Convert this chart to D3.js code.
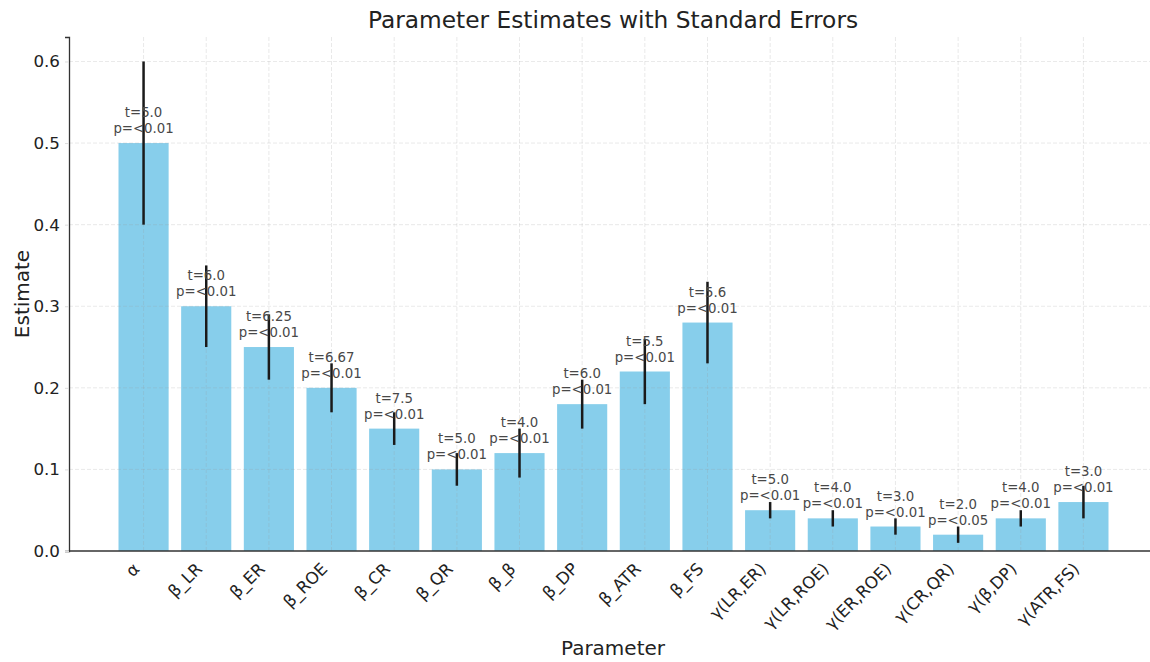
<!DOCTYPE html>
<html>
<head>
<meta charset="utf-8">
<script src="https://cdn.jsdelivr.net/npm/d3@7"></script>
<style>
  body { margin: 0; background: #fff; }
  text { font-family: "DejaVu Sans", sans-serif; }
</style>
</head>
<body>
<script>
// Parameter names, estimates and standard errors
const params = ["α","β_LR","β_ER","β_ROE","β_CR","β_QR","β_β","β_DP","β_ATR","β_FS",
    "γ(LR,ER)","γ(LR,ROE)","γ(ER,ROE)","γ(CR,QR)","γ(β,DP)","γ(ATR,FS)"];
const estimates = [0.5,0.3,0.25,0.2,0.15,0.1,0.12,0.18,0.22,0.28,0.05,0.04,0.03,0.02,0.04,0.06];
const stdErrors = [0.1,0.05,0.04,0.03,0.02,0.02,0.03,0.03,0.04,0.05,0.01,0.01,0.01,0.01,0.01,0.02];
const tStats = ["5.0","6.0","6.25","6.67","7.5","5.0","4.0","6.0","5.5","5.6","5.0","4.0","3.0","2.0","4.0","3.0"];
const pLabels = ["<0.01","<0.01","<0.01","<0.01","<0.01","<0.01","<0.01","<0.01","<0.01","<0.01",
    "<0.01","<0.01","<0.01","<0.05","<0.01","<0.01"];
const yTicks = [0.0,0.1,0.2,0.3,0.4,0.5,0.6];

const width = 1150, height = 662;

const svg = d3.select("body").append("svg")
    .attr("width", width)
    .attr("height", height);

// Scales (x uses index positions, like matplotlib's bar positions)
const x = d3.scaleLinear().domain([-1.19, params.length - 1 + 1.19]).range([69, 1158]);
const y = d3.scaleLinear().domain([0, 0.63]).range([551, 37]);
const barWidth = x(0.8) - x(0);

// Bars
svg.selectAll(".bar")
    .data(estimates)
    .enter().append("rect")
    .attr("class", "bar")
    .attr("x", (d, i) => x(i) - barWidth / 2)
    .attr("y", d => y(d))
    .attr("width", barWidth)
    .attr("height", d => y(0) - y(d))
    .attr("fill", "#87CEEB");

// Grid lines, drawn above the bars
const grid = svg.append("g").attr("class", "grid");
grid.selectAll(".hgrid")
    .data(yTicks.slice(1))
    .enter().append("line")
    .attr("x1", x.range()[0]).attr("x2", width)
    .attr("y1", d => y(d)).attr("y2", d => y(d))
    .attr("stroke", "#999")
    .attr("stroke-opacity", 0.22)
    .attr("stroke-dasharray", "4,2");
grid.selectAll(".vgrid")
    .data(params)
    .enter().append("line")
    .attr("x1", (d, i) => x(i)).attr("x2", (d, i) => x(i))
    .attr("y1", y(0.63)).attr("y2", y(0))
    .attr("stroke", "#999")
    .attr("stroke-opacity", 0.22)
    .attr("stroke-dasharray", "4,2");

// Error bars (no caps)
svg.selectAll(".err")
    .data(estimates)
    .enter().append("line")
    .attr("class", "err")
    .attr("x1", (d, i) => x(i)).attr("x2", (d, i) => x(i))
    .attr("y1", (d, i) => y(d - stdErrors[i]))
    .attr("y2", (d, i) => y(d + stdErrors[i]))
    .attr("stroke", "#1a1a1a")
    .attr("stroke-width", 2.5);

// t / p annotations above each bar
const notes = svg.selectAll(".note")
    .data(estimates)
    .enter().append("text")
    .attr("class", "note")
    .attr("text-anchor", "middle")
    .style("font-size", "13.3px")
    .attr("fill", "#484848");
notes.append("tspan")
    .attr("x", (d, i) => x(i))
    .attr("y", d => y(d) - 26)
    .text((d, i) => "t=" + tStats[i]);
notes.append("tspan")
    .attr("x", (d, i) => x(i))
    .attr("y", d => y(d) - 10)
    .text((d, i) => "p=" + pLabels[i]);

// Axes
const yAxis = svg.append("g")
    .attr("transform", "translate(" + x.range()[0] + ",0)")
    .call(d3.axisLeft(y).tickValues(yTicks).tickFormat(d3.format(".1f")).tickSize(4).tickPadding(5));
yAxis.select(".domain").attr("stroke", "#333").attr("stroke-width", 1.3);
yAxis.selectAll(".tick line").attr("stroke", "#ddd");
yAxis.selectAll(".tick text").style("font-size", "16.7px").attr("fill", "#222");

svg.append("line")
    .attr("x1", x.range()[0]).attr("x2", width)
    .attr("y1", y(0)).attr("y2", y(0))
    .attr("stroke", "#333")
    .attr("stroke-width", 1.3);

// Rotated x tick labels
svg.selectAll(".xlabel")
    .data(params)
    .enter().append("text")
    .attr("class", "xlabel")
    .attr("text-anchor", "end")
    .attr("transform", (d, i) => "translate(" + (x(i) - 3) + "," + (y(0) + 19) + ") rotate(-45)")
    .style("font-size", "16.7px")
    .attr("fill", "#222")
    .text(d => d);

// Axis titles
svg.append("text")
    .attr("x", 613).attr("y", 655)
    .attr("text-anchor", "middle")
    .style("font-size", "20px")
    .attr("fill", "#222")
    .text("Parameter");

svg.append("text")
    .attr("transform", "translate(29," + y(0.315) + ") rotate(-90)")
    .attr("text-anchor", "middle")
    .style("font-size", "20px")
    .attr("fill", "#222")
    .text("Estimate");

svg.append("text")
    .attr("x", 613).attr("y", 28)
    .attr("text-anchor", "middle")
    .style("font-size", "23.3px")
    .attr("fill", "#222")
    .text("Parameter Estimates with Standard Errors");
</script>
</body>
</html>
